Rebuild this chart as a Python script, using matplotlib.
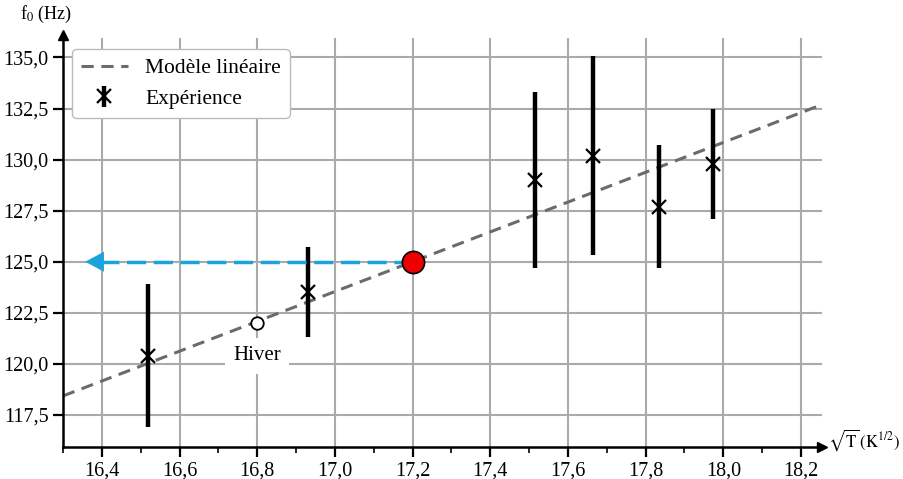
import matplotlib.pyplot as plt
import numpy as np
from matplotlib.ticker import FuncFormatter, MultipleLocator

plt.rcParams['font.family'] = ['Liberation Serif', 'DejaVu Serif']
plt.rcParams['mathtext.fontset'] = 'stix'

# donnees
sqrt_T = [16.52, 16.93, 17.515, 17.665, 17.835, 17.973]
f0 = [120.4, 123.5, 129.0, 130.2, 127.7, 129.8]
f0_err = [3.5, 2.2, 4.3, 4.85, 3.0, 2.7]

# modele lineaire f0 = a*sqrt(T) + b
a = 7.3
b = 125.0 - a * 17.2
x_model = [16.30, 18.25]

hiver_x, hiver_y = 16.8, 122.0
point_x, point_y = 17.2, 125.0
arrow_end = 16.35

x_ticks = [16.4, 16.6, 16.8, 17.0, 17.2, 17.4, 17.6, 17.8, 18.0, 18.2]
y_ticks = [117.5, 120.0, 122.5, 125.0, 127.5, 130.0, 132.5, 135.0]

xmin, xmax = 16.30, 18.254
ymin, ymax = 115.93, 136.1

fig = plt.figure(figsize=(9.04, 4.79), dpi=100)
ax = fig.add_axes([63 / 904, 1 - 447 / 479, (822 - 63) / 904, (447 - 35) / 479])
ax.set_xlim(xmin, xmax)
ax.set_ylim(ymin, ymax)

# grille
ax.hlines(y_ticks, xmin, xmax, color='#aaaaaa', lw=1.5, zorder=0)
ax.vlines(x_ticks, ymin, 135.95, color='#aaaaaa', lw=1.5, zorder=0)

# modele
xm = np.array(x_model)
ax.plot(xm, a * xm + b, ls='--', dashes=(4, 2.5), color='#6b6b6b', lw=2.2,
        label='Modèle linéaire', zorder=2)

# mesures
ax.errorbar(sqrt_T, f0, yerr=f0_err, fmt='x', color='black', ms=10, mew=1.6,
            elinewidth=3.2, capsize=0, label='Expérience', zorder=3)

# fleche bleue
ax.plot([point_x, arrow_end + 0.03], [point_y, point_y], ls='--', dashes=(5.5, 2.2),
        color='#1ba3dd', lw=2.5, zorder=4)
ax.annotate('', xy=(arrow_end, point_y), xytext=(arrow_end + 0.04, point_y),
            arrowprops=dict(arrowstyle='-|>,head_length=0.75,head_width=0.4',
                            mutation_scale=18, color='#1ba3dd', lw=0), zorder=4)

ax.plot(point_x, point_y, 'o', ms=16, mfc='#ee0000', mec='black', mew=1.2, zorder=6)
ax.plot(hiver_x, hiver_y, 'o', ms=9, mfc='white', mec='black', mew=1.3, zorder=6)
ax.text(hiver_x, 120.4, 'Hiver', ha='center', va='center', fontsize=15,
        bbox=dict(fc='white', ec='none', pad=6), zorder=5)

# axes avec fleches
for s in ['top', 'right']:
    ax.spines[s].set_visible(False)
ax.spines['left'].set_linewidth(1.8)
ax.spines['bottom'].set_linewidth(1.8)
ax.plot(1, 0, '>k', ms=7, transform=ax.transAxes, clip_on=False)
ax.plot(0, 1, '^k', ms=7, transform=ax.transAxes, clip_on=False)

ax.set_xticks(x_ticks)
ax.set_yticks(y_ticks)
ax.xaxis.set_minor_locator(MultipleLocator(0.1))
virgule = FuncFormatter(lambda v, p: f'{v:.1f}'.replace('.', ','))
ax.xaxis.set_major_formatter(virgule)
ax.yaxis.set_major_formatter(virgule)
ax.tick_params(axis='both', which='major', labelsize=14.5, width=1.6, length=7)
ax.tick_params(axis='x', which='minor', width=1.2, length=4)

fig.text(20 / 904, 1 - 4 / 479, 'f$_0$ (Hz)', fontsize=13, ha='left', va='top')
fig.text(900 / 904, 1 - 440 / 479, r'$\sqrt{\mathrm{T}}\,(\mathrm{K}^{1/2})$',
         fontsize=12, ha='right', va='center')

ax.legend(loc='upper left', bbox_to_anchor=(0.012, 0.965), borderaxespad=0,
          fontsize=15.5, framealpha=1, edgecolor='#bbbbbb', handlelength=2.2)

fig.savefig('out.png', dpi=100)
